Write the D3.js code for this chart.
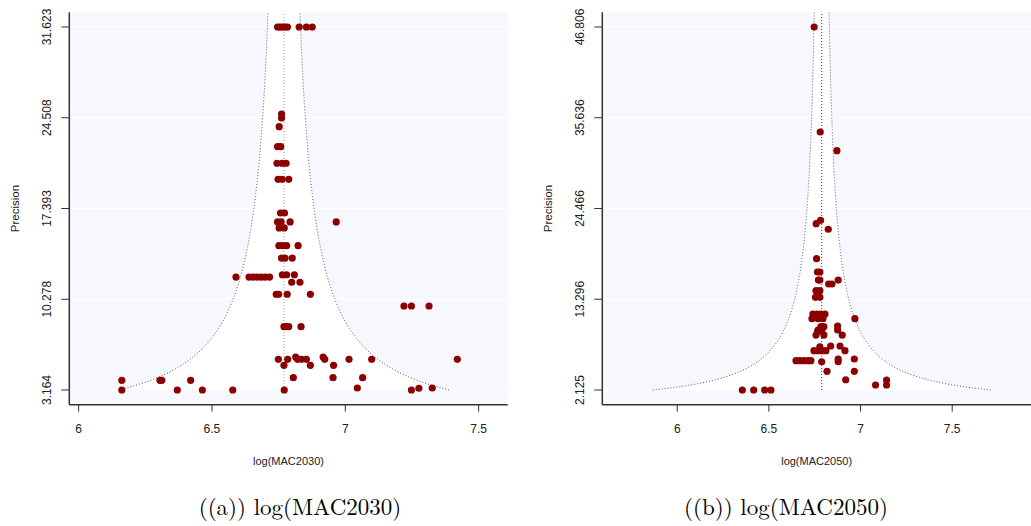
<!DOCTYPE html>
<html>
<head>
<meta charset="utf-8">
<script src="https://cdn.jsdelivr.net/npm/d3@7"></script>
<style>
    body { margin: 0; background: #fff; }
    svg { display: block; }
</style>
</head>
<body>
<svg id="chart" width="1031" height="526"></svg>
<script>
// Data: [log(MAC), precision]
const mac2030 = [
    [6.746, 31.623], [6.755, 31.623], [6.764, 31.623], [6.774, 31.623], [6.783, 31.623],
    [6.827, 31.623], [6.854, 31.623], [6.876, 31.623],
    [6.761, 24.80], [6.761, 24.49], [6.752, 23.81],
    [6.746, 22.24], [6.758, 22.24],
    [6.744, 20.94], [6.763, 20.94], [6.778, 20.94],
    [6.748, 19.68], [6.763, 19.68], [6.788, 19.68],
    [6.757, 17.04], [6.772, 17.04],
    [6.746, 16.34], [6.759, 16.34], [6.793, 16.34], [6.966, 16.34],
    [6.752, 15.87], [6.771, 15.87],
    [6.751, 14.48], [6.766, 14.48], [6.780, 14.48], [6.823, 14.48],
    [6.761, 13.51], [6.774, 13.51], [6.801, 13.51],
    [6.764, 12.20], [6.780, 12.20], [6.809, 12.20],
    [6.590, 12.02], [6.639, 12.02], [6.654, 12.02], [6.669, 12.02], [6.684, 12.02], [6.699, 12.02], [6.716, 12.02],
    [6.799, 11.61], [6.830, 11.61],
    [6.741, 10.67], [6.750, 10.67], [6.782, 10.67], [6.869, 10.67],
    [7.220, 9.75], [7.248, 9.75], [7.314, 9.75],
    [6.770, 8.13], [6.778, 8.13], [6.788, 8.13], [6.834, 8.13],
    [6.749, 5.57], [6.784, 5.57], [6.814, 5.75], [6.821, 5.57], [6.836, 5.57], [6.854, 5.57],
    [6.917, 5.75], [6.923, 5.57], [7.014, 5.57], [7.099, 5.57], [7.420, 5.57],
    [6.770, 5.10], [6.869, 5.10], [6.956, 5.10],
    [6.805, 4.13], [6.954, 4.13], [7.065, 4.13],
    [6.162, 3.92], [6.305, 3.92], [6.312, 3.92], [6.420, 3.92],
    [6.162, 3.164], [6.370, 3.164], [6.464, 3.164], [6.578, 3.164], [6.771, 3.164],
    [7.045, 3.32], [7.248, 3.164], [7.276, 3.30], [7.326, 3.32]
];

const mac2050 = [
    [6.747, 46.806],
    [6.780, 33.88],
    [6.871, 31.58],
    [6.782, 23.01], [6.758, 22.60], [6.824, 21.91],
    [6.760, 18.29],
    [6.765, 16.65], [6.778, 16.65],
    [6.770, 15.66], [6.778, 15.66], [6.878, 15.66],
    [6.826, 15.17], [6.844, 15.17],
    [6.757, 14.35], [6.778, 14.35],
    [6.754, 13.53], [6.778, 13.53],
    [6.740, 11.48], [6.762, 11.48], [6.784, 11.48], [6.806, 11.48],
    [6.735, 10.90], [6.768, 10.90], [6.795, 10.90], [6.969, 10.90],
    [6.784, 9.92], [6.800, 9.92], [6.875, 9.99],
    [6.768, 9.51], [6.789, 9.51], [6.875, 9.51],
    [6.766, 9.30],
    [6.757, 8.89], [6.800, 8.89], [6.900, 8.89],
    [6.837, 7.54], [6.888, 7.54], [6.778, 7.45],
    [6.746, 6.96], [6.768, 6.96], [6.789, 6.96], [6.811, 6.96], [6.915, 6.96],
    [6.966, 5.94],
    [6.648, 5.73], [6.669, 5.73], [6.691, 5.73], [6.713, 5.73], [6.729, 5.73],
    [6.788, 5.60], [6.878, 5.93], [6.878, 5.60],
    [6.817, 4.43], [6.966, 4.43],
    [6.919, 3.39],
    [7.082, 2.74], [7.142, 3.35], [7.142, 2.74],
    [6.355, 2.125], [6.417, 2.125], [6.477, 2.125], [6.511, 2.125]
];

const xTicks = [6, 6.5, 7, 7.5];
const yTicks2030 = [3.164, 10.278, 17.393, 24.508, 31.623];
const yTicks2050 = [2.125, 13.296, 24.466, 35.636, 46.806];
const titles = ['log(MAC2030)', 'log(MAC2050)'];
const captions = ['((a)) log(MAC2030)', '((b)) log(MAC2050)'];

const svg = d3.select('#chart');
const bgColor = '#f7f8fd';
const pointColor = '#8b0000';
const axisFont = 'Liberation Sans, Arial, sans-serif';

// Draw one funnel panel
function drawPanel(opts) {
    const x = d3.scaleLinear().domain(opts.xDomain).range([opts.left, opts.right]);
    const y = d3.scaleLinear().domain(opts.yDomain).range([opts.bottom, opts.top]);
    const g = svg.append('g');

    const clipId = 'clip' + opts.id;
    svg.append('clipPath').attr('id', clipId)
        .append('rect')
        .attr('x', opts.left).attr('y', opts.top)
        .attr('width', opts.right - opts.left).attr('height', opts.bottom - opts.top);

    const plot = g.append('g').attr('clip-path', 'url(#' + clipId + ')');

    // Background
    plot.append('rect')
        .attr('x', opts.left).attr('y', opts.top)
        .attr('width', opts.right - opts.left).attr('height', opts.bottom - opts.top)
        .style('fill', bgColor);

    // Funnel region (pseudo 95% limits)
    const pMin = opts.yTicks[0];
    const pMax = opts.yDomain[1] + 1;
    const precs = d3.range(pMin, pMax, 0.05).concat([pMax]);
    const leftEdge = precs.map(p => ({ x: opts.center - 1.96 / p, p: p }));
    const rightEdge = precs.map(p => ({ x: opts.center + 1.96 / p, p: p }));
    const line = d3.line().x(d => x(d.x)).y(d => y(d.p));

    plot.append('path')
        .attr('d', line(leftEdge.concat(rightEdge.slice().reverse())) + 'Z')
        .style('fill', '#fff');

    // Grid lines
    opts.yTicks.forEach(t => {
        plot.append('line')
            .attr('x1', opts.left).attr('x2', opts.right)
            .attr('y1', y(t)).attr('y2', y(t))
            .style('stroke', '#fff')
            .style('stroke-width', '1.2px');
    });

    // Funnel lines
    [leftEdge, rightEdge].forEach(edge => {
        plot.append('path')
            .attr('d', line(edge))
            .style('fill', 'none')
            .style('stroke', '#555')
            .style('stroke-width', '1px')
            .style('stroke-dasharray', '1,2');
    });

    // Center line
    plot.append('line')
        .attr('x1', x(opts.center)).attr('x2', x(opts.center))
        .attr('y1', y(pMin)).attr('y2', opts.top)
        .style('stroke', opts.centerColor)
        .style('stroke-width', '1px')
        .style('stroke-dasharray', '1,2');

    // Points
    plot.selectAll('circle.pt')
        .data(opts.data)
        .enter()
        .append('circle')
        .attr('class', 'pt')
        .attr('cx', d => x(d[0]))
        .attr('cy', d => y(d[1]))
        .attr('r', 3.6)
        .style('fill', pointColor);

    // Axes
    g.append('line')
        .attr('x1', opts.left).attr('x2', opts.left)
        .attr('y1', opts.top).attr('y2', opts.bottom)
        .style('stroke', '#333').style('stroke-width', '1.5px');
    g.append('line')
        .attr('x1', opts.left).attr('x2', opts.right)
        .attr('y1', opts.bottom).attr('y2', opts.bottom)
        .style('stroke', '#333').style('stroke-width', '1.5px');

    opts.yTicks.forEach(t => {
        g.append('line')
            .attr('x1', opts.left - 8).attr('x2', opts.left)
            .attr('y1', y(t)).attr('y2', y(t))
            .style('stroke', '#333').style('stroke-width', '1px');
        g.append('text')
            .attr('transform', 'translate(' + (opts.left - 23) + ',' + y(t) + ') rotate(-90)')
            .attr('text-anchor', 'middle')
            .attr('dy', '0.35em')
            .text(t.toFixed(3))
            .style('font-family', axisFont)
            .style('font-size', '12px')
            .style('fill', '#222');
    });

    xTicks.forEach(t => {
        g.append('line')
            .attr('x1', x(t)).attr('x2', x(t))
            .attr('y1', opts.bottom).attr('y2', opts.bottom + 7)
            .style('stroke', '#333').style('stroke-width', '1px');
        g.append('text')
            .attr('x', x(t))
            .attr('y', 428.5)
            .attr('dy', '0.35em')
            .attr('text-anchor', 'middle')
            .text(t)
            .style('font-family', axisFont)
            .style('font-size', '12px')
            .style('fill', '#222');
    });

    // Axis titles
    g.append('text')
        .attr('transform', 'translate(' + (opts.left - 54) + ',' + ((opts.top + opts.bottom) / 2) + ') rotate(-90)')
        .attr('text-anchor', 'middle')
        .attr('dy', '0.35em')
        .text('Precision')
        .style('font-family', axisFont)
        .style('font-size', '11.5px')
        .style('fill', '#222');

    g.append('text')
        .attr('x', (opts.left + opts.right) / 2)
        .attr('y', 461.5)
        .attr('dy', '0.35em')
        .attr('text-anchor', 'middle')
        .text(opts.title)
        .style('font-family', axisFont)
        .style('font-size', '11px')
        .style('fill', '#222');

    // Subfigure caption
    svg.append('text')
        .attr('x', opts.captionX)
        .attr('y', 515)
        .attr('text-anchor', 'middle')
        .text(opts.caption)
        .style('font-family', 'Latin Modern Roman, CMU Serif, Liberation Serif, DejaVu Serif, serif')
        .style('font-size', '23px')
        .style('fill', '#000');
}

drawPanel({
    id: 'a', data: mac2030, yTicks: yTicks2030,
    left: 69.3, right: 507.7, top: 12.3, bottom: 404.7,
    xDomain: [5.965, 7.609], yDomain: [2.011, 32.776],
    center: 6.770, centerColor: '#999',
    title: titles[0], caption: captions[0], captionX: 300
});

drawPanel({
    id: 'b', data: mac2050, yTicks: yTicks2050,
    left: 602.3, right: 1031, top: 12.3, bottom: 404.7,
    xDomain: [5.591, 7.93], yDomain: [0.316, 48.615],
    center: 6.788, centerColor: '#444',
    title: titles[1], caption: captions[1], captionX: 786
});
</script>
</body>
</html>
